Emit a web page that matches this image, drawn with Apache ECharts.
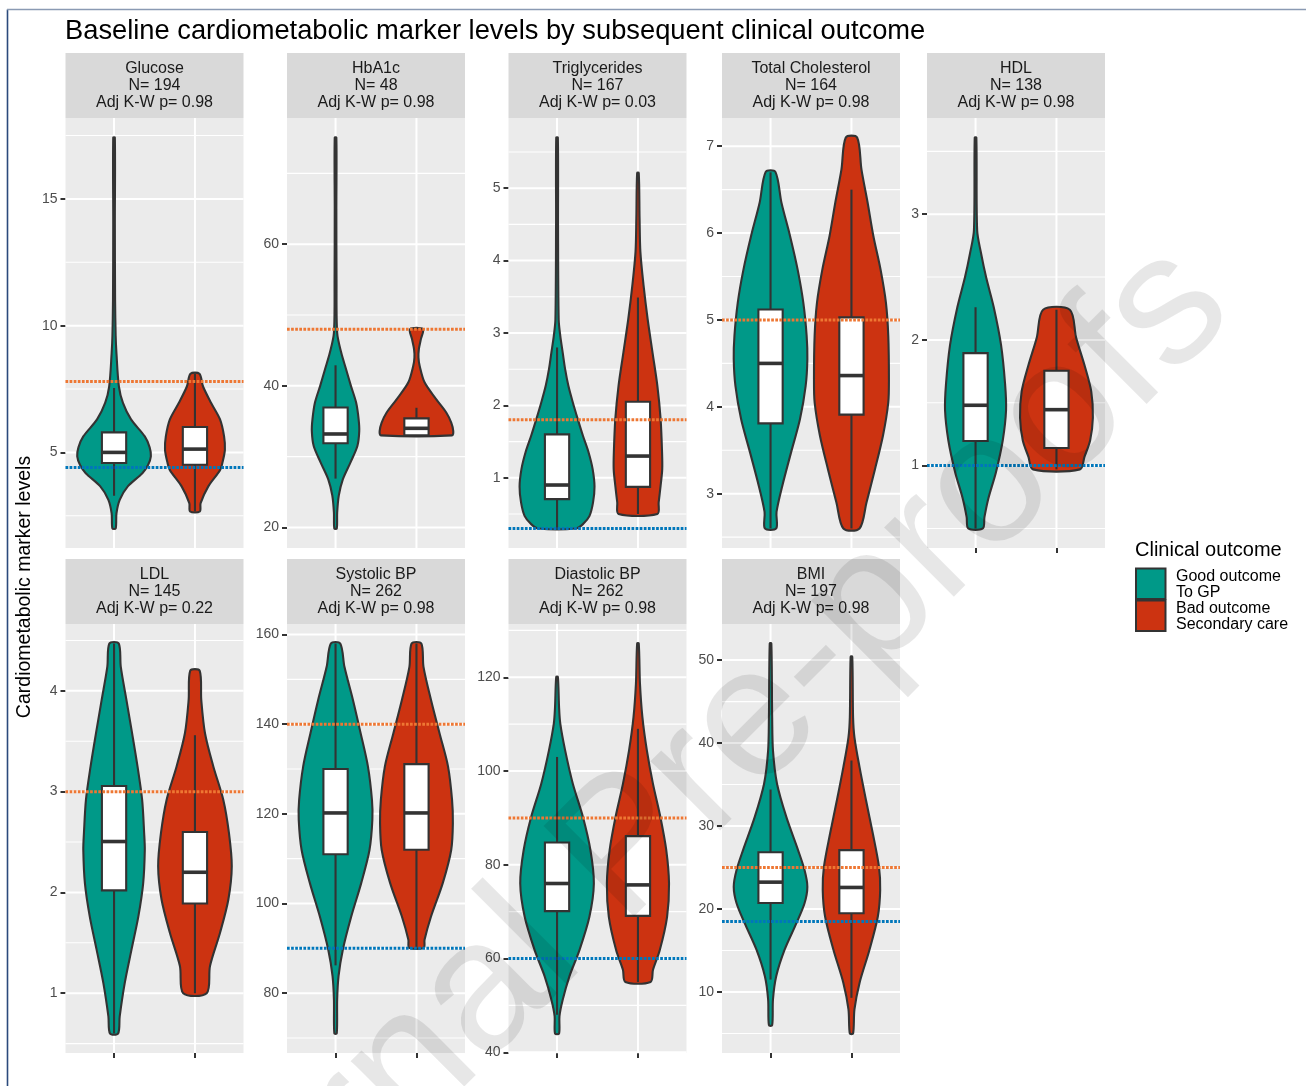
<!DOCTYPE html>
<html>
<head>
<meta charset="utf-8">
<script src="https://cdn.jsdelivr.net/npm/echarts@6/dist/echarts.min.js"></script>
<style>
html,body{margin:0;padding:0;background:#ffffff;}
#chart{width:1306px;height:1086px;}
</style>
</head>
<body>
<div id="chart"></div>
<script>
// ---------------- DATA ----------------
const panelNames = ['Glucose', 'HbA1c', 'Triglycerides', 'Total Cholesterol', 'HDL', 'LDL', 'Systolic BP', 'Diastolic BP', 'BMI'];
const panelN = [194, 48, 167, 164, 138, 145, 262, 262, 197];
const panelP = ['0.98', '0.98', '0.03', '0.98', '0.98', '0.22', '0.98', '0.98', '0.98'];
const majorTicks = [
  [5, 10, 15], [20, 40, 60], [1, 2, 3, 4, 5], [3, 4, 5, 6, 7], [1, 2, 3],
  [1, 2, 3, 4], [80, 100, 120, 140, 160], [40, 60, 80, 100, 120], [10, 20, 30, 40, 50]
];
const upperRef = [7.8, 48, 1.8, 5, null, 3, 140, 90, 25];
const lowerRef = [4.4, null, 0.3, null, 1, null, 90, 60, 18.5];
const outcomeLabels = ['Good outcome\nTo GP', 'Bad outcome\nSecondary care'];
const outcomePos = [1, 2];

// violin outlines: [value, half-width (x units)], top to bottom
const glucoseGood = [[17.42,0.01],[14,0.01],[11,0.013],[9.6,0.02],[8.9,0.03],[7.6,0.06],[6.95,0.11],[6.3,0.21],[5.63,0.38],[5.2,0.44],[4.84,0.455],[4.5,0.42],[4.18,0.35],[3.66,0.17],[3.13,0.07],[2.6,0.03],[2.0,0.02]];
const glucoseBad = [[8.1,0.055],[7.6,0.1],[6.95,0.2],[6.3,0.31],[5.63,0.36],[5.1,0.37],[4.6,0.34],[4.3,0.31],[3.66,0.165],[3.0,0.07],[2.67,0.06]];
const hba1cGood = [[75.06,0.01],[65,0.01],[55,0.012],[47.5,0.02],[44.7,0.07],[42.35,0.13],[40,0.19],[37.6,0.255],[35.3,0.285],[33.6,0.293],[31.5,0.27],[29.2,0.185],[26.8,0.09],[24.5,0.04],[22.1,0.02],[19.86,0.015]];
const hba1cBad = [[48,0.08],[46.6,0.055],[45.2,0.03],[44,0.025],[42.8,0.04],[40.5,0.1],[38.1,0.245],[36.2,0.37],[34.8,0.43],[33.6,0.455],[33.0,0.44]];
const trigGood = [[5.7,0.01],[4.5,0.012],[3.19,0.02],[2.96,0.04],[2.73,0.07],[2.5,0.1],[2.27,0.14],[2.04,0.195],[1.81,0.256],[1.58,0.32],[1.35,0.39],[1.12,0.44],[0.88,0.463],[0.66,0.445],[0.47,0.4],[0.36,0.32],[0.3,0.235]];
const trigBad = [[5.21,0.01],[4.58,0.02],[4.12,0.03],[3.65,0.07],[3.19,0.12],[2.73,0.18],[2.27,0.24],[1.81,0.28],[1.35,0.298],[1.12,0.3],[0.89,0.28],[0.66,0.256],[0.5,0.24]];
const tcGood = [[6.705,0.06],[6.35,0.135],[5.97,0.24],[5.58,0.335],[5.2,0.405],[4.82,0.446],[4.55,0.455],[4.24,0.434],[3.86,0.364],[3.47,0.252],[3.09,0.145],[2.79,0.074],[2.6,0.07]];
const tcBad = [[7.1,0.07],[6.73,0.124],[6.35,0.2],[5.97,0.27],[5.58,0.36],[5.2,0.426],[4.82,0.455],[4.32,0.463],[4.05,0.455],[3.67,0.39],[3.28,0.29],[2.9,0.186],[2.6,0.1]];
const hdlGood = [[3.61,0.01],[2.87,0.02],[2.69,0.068],[2.5,0.13],[2.26,0.225],[1.96,0.315],[1.65,0.365],[1.44,0.377],[1.2,0.336],[0.95,0.253],[0.74,0.159],[0.59,0.11],[0.5,0.09]];
const hdlBad = [[2.24,0.165],[2.02,0.243],[1.8,0.346],[1.59,0.43],[1.38,0.45],[1.2,0.416],[1.07,0.346],[0.97,0.29]];
const ldlGood = [[4.47,0.058],[4.24,0.083],[3.91,0.153],[3.58,0.223],[3.25,0.29],[2.92,0.347],[2.59,0.372],[2.42,0.38],[2.09,0.36],[1.76,0.3],[1.43,0.215],[1.1,0.132],[0.77,0.07],[0.6,0.05]];
const ldlBad = [[4.2,0.058],[3.91,0.078],[3.58,0.124],[3.25,0.227],[2.92,0.35],[2.59,0.42],[2.26,0.455],[1.93,0.413],[1.6,0.31],[1.27,0.186],[1.0,0.145]];
const sbpGood = [[158,0.058],[152.8,0.11],[145.4,0.215],[138,0.31],[130.6,0.4],[123.1,0.45],[118.7,0.455],[112,0.42],[104.6,0.318],[97.1,0.194],[89.7,0.09],[83.8,0.037],[78.6,0.02],[71,0.015]];
const sbpBad = [[158,0.06],[152.8,0.087],[145.4,0.18],[138,0.285],[130.6,0.39],[123.1,0.44],[117.9,0.45],[112,0.43],[104.6,0.326],[97.1,0.18],[91.9,0.1],[90.1,0.09]];
const dbpGood = [[120.1,0.01],[113.6,0.025],[110.1,0.04],[104.4,0.1],[97.3,0.195],[90.2,0.32],[83.1,0.413],[76,0.455],[68.9,0.4],[61.8,0.277],[56.2,0.153],[51.2,0.07],[47.7,0.03],[44,0.025]];
const dbpBad = [[127.2,0.01],[118.6,0.025],[111.5,0.055],[104.4,0.11],[97.3,0.185],[90.2,0.277],[83.1,0.35],[76,0.384],[68.9,0.36],[61.8,0.27],[57.6,0.186],[55,0.155]];
const bmiGood = [[52,0.01],[43.1,0.02],[39.1,0.03],[35.1,0.08],[31.1,0.195],[27.1,0.34],[24.7,0.42],[22.7,0.455],[20.7,0.42],[18.3,0.32],[15.1,0.174],[11.9,0.07],[9.1,0.03],[6,0.02]];
const bmiBad = [[50.4,0.01],[43.1,0.02],[40.7,0.037],[37.1,0.1],[33.1,0.18],[29.1,0.264],[25.1,0.34],[22.3,0.355],[19.1,0.326],[15.1,0.223],[11.1,0.1],[7.9,0.037],[5,0.02]];

// boxplots: [lower whisker, Q1, median, Q3, upper whisker]
const boxGood = [
  [3.29, 4.58, 5.0, 5.79, 7.54], [26.9, 31.9, 33.2, 36.94, 42.9], [0.3, 0.705, 0.9, 1.6, 2.8],
  [2.6, 3.81, 4.5, 5.12, 6.7], [0.5, 1.196, 1.48, 1.895, 2.26], [0.6, 2.02, 2.505, 3.056, 4.47],
  [86.2, 111.0, 120.2, 130.0, 158], [48.0, 70.1, 76.0, 84.75, 103.0], [11.5, 20.72, 23.24, 26.84, 34.4]
];
const boxBad = [
  [2.67, 4.51, 5.13, 6.0, 8.1], [33.0, 33.0, 34.0, 35.4, 36.9], [0.5, 0.875, 1.3, 2.05, 3.49],
  [2.6, 3.91, 4.36, 5.03, 6.5], [0.97, 1.14, 1.445, 1.755, 2.24], [1.0, 1.89, 2.2, 2.6, 3.56],
  [90, 112, 120.2, 131.1, 158], [55, 69.1, 75.7, 86.1, 109.0], [9.3, 19.5, 22.6, 27.1, 37.9]
];

const goodViolins = [glucoseGood, hba1cGood, trigGood, tcGood, hdlGood, ldlGood, sbpGood, dbpGood, bmiGood];
const badViolins = [glucoseBad, hba1cBad, trigBad, tcBad, hdlBad, ldlBad, sbpBad, dbpBad, bmiBad];

// ---------------- STYLE / LAYOUT ----------------
const FONT = '"Liberation Sans", Arial, Helvetica, sans-serif';
const fillColors = ['#009988', '#CC3311'];
const upperColor = '#EE7733';
const lowerColor = '#0077BB';
const outline = '#333333';
const colLeft = [65.5, 287, 508.5, 722, 927];
const panelW = 178;
const stripTop = [53, 559];
const stripH = 65;
const panelH = [430, 429];
const cells = [[0,0],[0,1],[0,2],[0,3],[0,4],[1,0],[1,1],[1,2],[1,3]];
const boxHalf = 0.15;
const strokeW = 2.1;

const grids = [], xAxes = [], yAxes = [], series = [], graphics = [];

cells.forEach(function (rc, i) {
  const r = rc[0], c = rc[1];
  const vals = [];
  goodViolins[i].concat(badViolins[i]).forEach(function (p) { vals.push(p[0]); });
  if (upperRef[i] != null) vals.push(upperRef[i]);
  if (lowerRef[i] != null) vals.push(lowerRef[i]);
  const lo = Math.min.apply(null, vals), hi = Math.max.apply(null, vals);
  const pad = (hi - lo) * 0.05;
  const yMin = lo - pad, yMax = hi + pad;
  const ticks = majorTicks[i];
  const step = ticks[1] - ticks[0];
  const minors = [];
  for (let k = -1; k < ticks.length; k++) {
    const m = ticks[0] + step * (k + 0.5);
    if (m > yMin && m < yMax) minors.push(m);
  }
  const isBottom = (r === 1) || i === 4;

  grids.push({
    left: colLeft[c], top: stripTop[r] + stripH, width: panelW, height: panelH[r],
    show: true, backgroundColor: '#EBEBEB', borderWidth: 0, containLabel: false, outerBoundsMode: 'none'
  });
  xAxes.push({
    gridIndex: i, type: 'value', min: 0.4, max: 2.6,
    axisLine: { show: false }, axisLabel: { show: false }, splitLine: { show: false },
    axisTick: { show: isBottom, customValues: outcomePos, length: 5, lineStyle: { color: outline, width: 2 } }
  });
  yAxes.push({
    gridIndex: i, type: 'value', min: yMin, max: yMax,
    axisLine: { show: false }, splitLine: { show: false },
    axisTick: { show: true, customValues: ticks, length: 5, lineStyle: { color: outline, width: 2 } },
    axisLabel: { customValues: ticks, color: '#4D4D4D', fontSize: 14, margin: 8, fontFamily: FONT }
  });

  // grid lines
  const gridData = [];
  ticks.forEach(function (t) { gridData.push([t, 0]); });
  minors.forEach(function (t) { gridData.push([t, 1]); });
  outcomePos.forEach(function (t) { gridData.push([t, 2]); });
  series.push({
    type: 'custom', xAxisIndex: i, yAxisIndex: i, z: 1, silent: true,
    encode: { x: -1, y: -1 },
    data: gridData,
    renderItem: function (params, api) {
      const cs = params.coordSys;
      const v = api.value(0), kind = api.value(1);
      if (kind === 2) {
        const px = api.coord([v, yMin])[0];
        return { type: 'line', shape: { x1: px, y1: cs.y, x2: px, y2: cs.y + cs.height }, style: { stroke: '#FFFFFF', lineWidth: 2 } };
      }
      const py = api.coord([1, v])[1];
      return { type: 'line', shape: { x1: cs.x, y1: py, x2: cs.x + cs.width, y2: py }, style: { stroke: '#FFFFFF', lineWidth: kind === 0 ? 2 : 1.1 } };
    }
  });

  // violins
  series.push({
    type: 'custom', xAxisIndex: i, yAxisIndex: i, z: 2, silent: true,
    encode: { x: 0, y: -1 },
    data: [[outcomePos[0], 0], [outcomePos[1], 1]],
    renderItem: function (params, api) {
      const x0 = api.value(0), g = api.value(1);
      const prof = (g === 0 ? goodViolins : badViolins)[i];
      const left = prof.map(function (p) { return api.coord([x0 - p[1], p[0]]); });
      const right = prof.slice().reverse().map(function (p) { return api.coord([x0 + p[1], p[0]]); });
      return {
        type: 'polygon',
        shape: { points: left.concat(right), smooth: 0.3 },
        style: { fill: fillColors[g], stroke: outline, lineWidth: strokeW, lineJoin: 'round' }
      };
    }
  });

  // boxplots
  series.push({
    type: 'custom', xAxisIndex: i, yAxisIndex: i, z: 3, silent: true,
    encode: { x: 0, y: -1 },
    data: [[outcomePos[0], 0], [outcomePos[1], 1]],
    renderItem: function (params, api) {
      const x0 = api.value(0), g = api.value(1);
      const b = (g === 0 ? boxGood : boxBad)[i];
      const pLow = api.coord([x0, b[0]]), pQ1 = api.coord([x0, b[1]]);
      const pQ3 = api.coord([x0, b[3]]), pHigh = api.coord([x0, b[4]]);
      const tl = api.coord([x0 - boxHalf, b[3]]), br = api.coord([x0 + boxHalf, b[1]]);
      const mL = api.coord([x0 - boxHalf, b[2]]), mR = api.coord([x0 + boxHalf, b[2]]);
      const ls = { stroke: outline, lineWidth: strokeW };
      return {
        type: 'group',
        children: [
          { type: 'line', shape: { x1: pQ3[0], y1: pQ3[1], x2: pHigh[0], y2: pHigh[1] }, style: ls },
          { type: 'line', shape: { x1: pQ1[0], y1: pQ1[1], x2: pLow[0], y2: pLow[1] }, style: ls },
          { type: 'rect', shape: { x: tl[0], y: tl[1], width: br[0] - tl[0], height: br[1] - tl[1] }, style: { fill: '#FFFFFF', stroke: outline, lineWidth: strokeW } },
          { type: 'line', shape: { x1: mL[0], y1: mL[1], x2: mR[0], y2: mR[1] }, style: { stroke: outline, lineWidth: 3.6 } }
        ]
      };
    }
  });

  // reference lines
  const refData = [];
  if (upperRef[i] != null) refData.push([upperRef[i], 0]);
  if (lowerRef[i] != null) refData.push([lowerRef[i], 1]);
  series.push({
    type: 'custom', xAxisIndex: i, yAxisIndex: i, z: 4, silent: true,
    encode: { x: -1, y: 0 },
    data: refData,
    renderItem: function (params, api) {
      const cs = params.coordSys;
      const py = api.coord([1, api.value(0)])[1];
      return {
        type: 'line', shape: { x1: cs.x, y1: py, x2: cs.x + cs.width, y2: py },
        style: { stroke: api.value(1) === 0 ? upperColor : lowerColor, lineWidth: 3, lineDash: [2.7, 1.4] }
      };
    }
  });

  // strip
  graphics.push({
    type: 'rect', z: 1, silent: true,
    shape: { x: colLeft[c], y: stripTop[r], width: panelW, height: stripH },
    style: { fill: '#D9D9D9' }
  });
  graphics.push({
    type: 'text', z: 2, silent: true,
    x: colLeft[c] + panelW / 2, y: stripTop[r] + stripH / 2,
    style: {
      text: panelNames[i] + '\nN= ' + panelN[i] + '\nAdj K-W p= ' + panelP[i],
      fontSize: 16, lineHeight: 17, fontFamily: FONT, fill: '#1A1A1A',
      align: 'center', verticalAlign: 'middle'
    }
  });
});

// y axis title
graphics.push({
  type: 'text', silent: true, x: 25, y: 587, rotation: Math.PI / 2,
  style: { text: 'Cardiometabolic marker levels', fontSize: 19.5, fontFamily: FONT, fill: '#000000', align: 'center', verticalAlign: 'middle' }
});

// legend
graphics.push({
  type: 'text', silent: true, x: 1135, y: 550,
  style: { text: 'Clinical outcome', fontSize: 20, fontFamily: FONT, fill: '#000000', align: 'left', verticalAlign: 'middle' }
});
outcomeLabels.forEach(function (lab, g) {
  const top = 568.5 + g * 32;
  graphics.push({
    type: 'rect', silent: true, shape: { x: 1136, y: top, width: 29.5, height: 30.5 },
    style: { fill: fillColors[g], stroke: outline, lineWidth: 2 }
  });
  graphics.push({
    type: 'text', silent: true, x: 1176, y: top + 16,
    style: { text: lab, fontSize: 16, lineHeight: 16.5, fontFamily: FONT, fill: '#000000', align: 'left', verticalAlign: 'middle' }
  });
});

// page frame
graphics.push({ type: 'line', silent: true, shape: { x1: 7.5, y1: 9.5, x2: 7.5, y2: 1086 }, style: { stroke: '#2B4A7C', lineWidth: 1.6 } });
graphics.push({ type: 'line', silent: true, shape: { x1: 7, y1: 9.5, x2: 1306, y2: 9.5 }, style: { stroke: '#8A9AB3', lineWidth: 1.3 } });

// watermark
graphics.push({
  type: 'text', silent: true, z: 100, x: 660, y: 818, rotation: Math.PI / 4,
  style: { text: 'Journal Pre-proofs', fontSize: 186, fontFamily: FONT, fill: 'rgba(0,0,0,0.095)', align: 'center', verticalAlign: 'middle' }
});

const chart = echarts.init(document.getElementById('chart'), null, { renderer: 'canvas', width: 1306, height: 1086 });
chart.setOption({
  backgroundColor: '#FFFFFF',
  animation: false,
  title: {
    text: 'Baseline cardiometabolic marker levels by subsequent clinical outcome',
    left: 60, top: 13,
    textStyle: { fontSize: 27.3, fontWeight: 'normal', color: '#000000', fontFamily: FONT }
  },
  grid: grids,
  xAxis: xAxes,
  yAxis: yAxes,
  series: series,
  graphic: { elements: graphics }
});
</script>
</body>
</html>
